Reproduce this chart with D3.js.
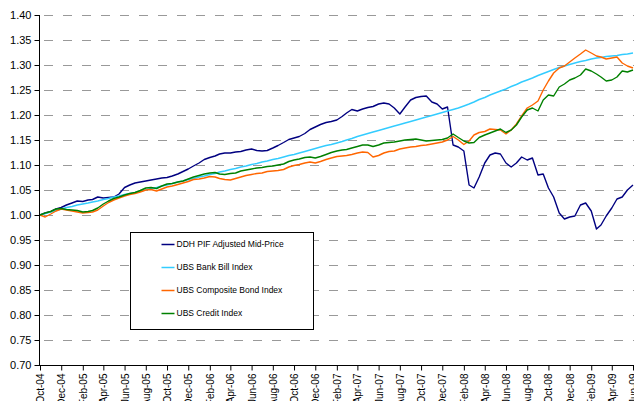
<!DOCTYPE html>
<html>
<head>
<meta charset="utf-8">
<script src="https://cdn.jsdelivr.net/npm/d3@7"></script>
<style>
    body { margin: 0; background: #fff; }
    svg { display: block; font-family: "Liberation Sans", Arial, sans-serif; }
</style>
</head>
<body>
<svg id="chart" width="634" height="401"></svg>
<script>
//每半个月一个数据点：每月1日和16日，2004年10月到2009年6月
let dates = d3.range(113).map(i => new Date(2004, 9 + Math.floor(i / 2), i % 2 ? 16 : 1));

//DDH PIF Adjusted Mid-Price
let ddh = [
    1.000, 1.004, 1.007, 1.012, 1.015, 1.020, 1.024, 1.028, 1.027, 1.030,
    1.031, 1.036, 1.034, 1.035, 1.036, 1.042, 1.055, 1.060, 1.064, 1.066,
    1.068, 1.070, 1.072, 1.074, 1.075, 1.078, 1.082, 1.087, 1.092, 1.098,
    1.104, 1.111, 1.115, 1.118, 1.122, 1.124, 1.124, 1.126, 1.127, 1.130,
    1.132, 1.129, 1.128, 1.129, 1.134, 1.139, 1.145, 1.151, 1.154, 1.157,
    1.163, 1.171, 1.176, 1.181, 1.185, 1.187, 1.190, 1.197, 1.204, 1.211,
    1.208, 1.212, 1.215, 1.217, 1.222, 1.224, 1.222, 1.214, 1.202, 1.216,
    1.230, 1.235, 1.237, 1.238, 1.226, 1.222, 1.212, 1.216, 1.140, 1.136,
    1.128, 1.060, 1.054, 1.076, 1.104, 1.120, 1.124, 1.122, 1.104, 1.096,
    1.104, 1.116, 1.110, 1.114, 1.080, 1.082, 1.054, 1.036, 1.004, 0.992,
    0.996, 0.998, 1.020, 1.024, 1.008, 0.972, 0.980, 0.998, 1.014, 1.032,
    1.036, 1.050, 1.060
];

//UBS Bank Bill Index
let bankBill = [
    1.000, 1.003, 1.006, 1.009, 1.012, 1.015, 1.017, 1.020, 1.022, 1.024,
    1.026, 1.028, 1.031, 1.033, 1.036, 1.038, 1.041, 1.043, 1.045, 1.048,
    1.050, 1.053, 1.055, 1.058, 1.060, 1.063, 1.066, 1.068, 1.071, 1.073,
    1.076, 1.078, 1.081, 1.083, 1.086, 1.088, 1.091, 1.093, 1.096, 1.098,
    1.101, 1.103, 1.106, 1.108, 1.111, 1.113, 1.116, 1.119, 1.121, 1.124,
    1.127, 1.130, 1.133, 1.136, 1.139, 1.141, 1.144, 1.147, 1.150, 1.153,
    1.157, 1.160, 1.163, 1.166, 1.169, 1.172, 1.175, 1.178, 1.181, 1.184,
    1.187, 1.190, 1.193, 1.196, 1.199, 1.202, 1.205, 1.208, 1.211, 1.214,
    1.218, 1.222, 1.226, 1.231, 1.235, 1.240, 1.244, 1.248, 1.252, 1.257,
    1.261, 1.266, 1.270, 1.274, 1.279, 1.283, 1.287, 1.291, 1.295, 1.298,
    1.301, 1.304, 1.307, 1.309, 1.312, 1.314, 1.315, 1.317, 1.318, 1.319,
    1.321, 1.322, 1.324
];

//UBS Composite Bond Index
let compositeBond = [
    1.000, 0.996, 1.002, 1.008, 1.012, 1.010, 1.008, 1.006, 1.004, 1.005,
    1.006, 1.010, 1.018, 1.025, 1.030, 1.034, 1.038, 1.041, 1.043, 1.046,
    1.050, 1.051, 1.048, 1.052, 1.056, 1.058, 1.061, 1.064, 1.067, 1.071,
    1.072, 1.074, 1.077, 1.076, 1.073, 1.071, 1.070, 1.073, 1.076, 1.079,
    1.081, 1.083, 1.084, 1.087, 1.088, 1.089, 1.091, 1.096, 1.099, 1.101,
    1.104, 1.106, 1.104, 1.107, 1.111, 1.114, 1.117, 1.118, 1.119, 1.121,
    1.124, 1.126, 1.125, 1.116, 1.119, 1.124, 1.127, 1.128, 1.132, 1.134,
    1.136, 1.137, 1.139, 1.140, 1.142, 1.144, 1.146, 1.150, 1.157, 1.150,
    1.141, 1.148, 1.160, 1.165, 1.167, 1.172, 1.171, 1.170, 1.162, 1.170,
    1.182, 1.198, 1.214, 1.220, 1.228, 1.250, 1.268, 1.284, 1.294, 1.298,
    1.306, 1.314, 1.322, 1.330, 1.324, 1.318, 1.316, 1.312, 1.314, 1.316,
    1.304, 1.298, 1.294
];

//UBS Credit Index
let creditIndex = [
    1.000, 1.004, 1.007, 1.012, 1.013, 1.011, 1.010, 1.009, 1.006, 1.007,
    1.009, 1.014, 1.022, 1.028, 1.033, 1.036, 1.040, 1.043, 1.045, 1.049,
    1.054, 1.055, 1.053, 1.058, 1.062, 1.063, 1.066, 1.068, 1.072, 1.076,
    1.079, 1.082, 1.084, 1.085, 1.082, 1.081, 1.083, 1.084, 1.088, 1.090,
    1.092, 1.094, 1.095, 1.097, 1.098, 1.100, 1.102, 1.107, 1.110, 1.112,
    1.115, 1.116, 1.114, 1.117, 1.121, 1.125, 1.128, 1.130, 1.131, 1.134,
    1.137, 1.140, 1.140, 1.137, 1.140, 1.144, 1.145, 1.146, 1.148, 1.150,
    1.151, 1.152, 1.150, 1.148, 1.149, 1.150, 1.151, 1.154, 1.162, 1.155,
    1.148, 1.144, 1.145, 1.155, 1.160, 1.164, 1.168, 1.172, 1.165, 1.170,
    1.180, 1.196, 1.210, 1.214, 1.208, 1.230, 1.240, 1.238, 1.256, 1.262,
    1.270, 1.274, 1.280, 1.292, 1.288, 1.282, 1.276, 1.268, 1.270, 1.276,
    1.288, 1.286, 1.290
];

let seriesNames = ["DDH PIF Adjusted Mid-Price", "UBS Bank Bill Index", "UBS Composite Bond Index", "UBS Credit Index"];
let seriesValues = [ddh, bankBill, compositeBond, creditIndex];
let seriesColors = ["#000080", "#33ccff", "#ff6600", "#008000"];

//y轴刻度 0.70 到 1.40
let yTicks = d3.range(14, 29).map(k => k * 0.05);

let svg = d3.select("#chart");

let x = d3.scaleTime()
    .domain([new Date(2004, 9, 1), new Date(2009, 5, 1)])
    .range([40, 633]);

let y = d3.scaleLinear()
    .domain([0.70, 1.40])
    .range([365, 15]);

//虚线网格
svg.append("g")
    .selectAll("line")
    .data(yTicks.filter(v => v > 0.71))
    .join("line")
    .attr("x1", 44).attr("x2", 634)
    .attr("y1", d => Math.round(y(d)) + 0.5)
    .attr("y2", d => Math.round(y(d)) + 0.5)
    .attr("stroke", "#999")
    .attr("stroke-width", 1.2)
    .attr("stroke-dasharray", "9,10");

//折线
let line = d3.line()
    .x((d, i) => x(dates[i]))
    .y(d => y(d));

svg.append("g")
    .selectAll("path")
    .data(seriesValues)
    .join("path")
    .attr("d", d => line(d))
    .attr("fill", "none")
    .attr("stroke", (d, i) => seriesColors[i])
    .attr("stroke-width", 1.4)
    .attr("stroke-linejoin", "round");

//y轴
let yAxis = svg.append("g")
    .attr("transform", "translate(39.5,0)")
    .call(d3.axisLeft(y).tickValues(yTicks).tickFormat(d3.format(".2f")).tickSize(5).tickPadding(3));
yAxis.select(".domain").attr("stroke", "#000").attr("d", "M0,15V365.5");
yAxis.selectAll("text").attr("font-size", "11px").attr("fill", "#000").attr("font-family", "Liberation Sans, Arial");

//x轴，每两个月一个标签
let xTickDates = d3.timeMonth.range(new Date(2004, 9, 1), new Date(2009, 6, 1), 2);
let xAxis = svg.append("g")
    .attr("transform", "translate(0,365.5)")
    .call(d3.axisBottom(x).tickValues(xTickDates).tickFormat(d3.timeFormat("%b-%y")).tickSize(5));
xAxis.select(".domain").attr("stroke", "#000").attr("d", "M39,0H634");
xAxis.selectAll("text")
    .attr("font-size", "10px")
    .attr("fill", "#000")
    .attr("font-family", "Liberation Sans, Arial")
    .attr("text-anchor", "end")
    .attr("transform", "rotate(-90)")
    .attr("x", -8)
    .attr("y", 0)
    .attr("dy", "0.35em");

//图例
let legend = svg.append("g").attr("transform", "translate(130.5,232.5)");
legend.append("rect")
    .attr("width", 183).attr("height", 97)
    .attr("fill", "#fff")
    .attr("stroke", "#000");

let items = legend.selectAll("g.item")
    .data(seriesNames)
    .join("g").classed("item", true)
    .attr("transform", (d, i) => `translate(0, ${12 + i * 23})`);

items.append("line")
    .attr("x1", 31).attr("x2", 44)
    .attr("stroke", (d, i) => seriesColors[i])
    .attr("stroke-width", 1.5);

items.append("text")
    .attr("x", 46).attr("dy", "0.35em")
    .attr("font-size", "8.5px")
    .attr("fill", "#000")
    .text(d => d);
</script>
</body>
</html>
